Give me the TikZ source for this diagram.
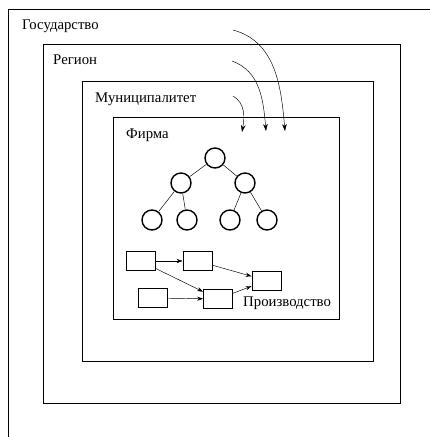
\documentclass[tikz,border=0pt]{standalone}
\usepackage{fontspec}
\setmainfont{Liberation Serif}
\usetikzlibrary{arrows.meta,positioning}

\begin{document}
\begin{tikzpicture}[x=0.03cm, y=0.03cm,
    level/.style={anchor=base west, inner sep=0pt, font=\fontsize{12.6}{14}\selectfont},
    unit/.style={draw, line width=1.2pt, circle, minimum size=0.6cm, inner sep=0pt},
    proc/.style={draw, thick, minimum width=0.87cm, minimum height=0.57cm, inner sep=0pt},
    flow/.style={-{Stealth[length=5pt, width=3.5pt]}},
    power/.style={-{Stealth[length=6pt, width=4pt]}}]
    \useasboundingbox (0,0) rectangle (430,437);

    % Nested levels
    \draw[thick] (8,0) -- (8,428) -- (430,428);
    \draw[thick] (43,34) rectangle (400,393);
    \draw[thick] (82,76) rectangle (373,356);
    \draw[thick] (113,118) rectangle (339,320);

    \node[level] (state) at (22,407) {Государство};
    \node[level] (region) at (53,372) {Регион};
    \node[level] (munic) at (95,334) {Муниципалитет};
    \node[level] (firm) at (126,298) {Фирма};

    % Influence from above
    \coordinate (s1) at (233,407);
    \coordinate (e1) at (285,306);
    \coordinate (s2) at (232,376);
    \coordinate (e2) at (266,306);
    \coordinate (s3) at (233,341);
    \coordinate (e3) at (242,305);
    \draw[power] (s1) to[out=-15, in=95] (e1);
    \draw[power] (s2) to[out=-20, in=95] (e2);
    \draw[power] (s3) to[out=-30, in=80] (e3);

    % Hierarchy
    \node[unit] (root) at (215,279) {};
    \node[unit] (left) at (181,254) {};
    \node[unit] (right) at (245,254) {};
    \node[unit] (ll) at (152,217) {};
    \node[unit] (lr) at (187,217) {};
    \node[unit] (rl) at (230,217) {};
    \node[unit] (rr) at (267,217) {};
    \draw (root) -- (left);
    \draw (root) -- (right);
    \draw (left) -- (ll);
    \draw (left) -- (lr);
    \draw (right) -- (rl);
    \draw (right) -- (rr);

    % Production chain
    \node[proc] (p1) at (140.5,176) {};
    \node[proc] (p2) at (197.5,176) {};
    \node[proc] (p3) at (266.5,156.5) {};
    \node[proc] (p4) at (153,139) {};
    \node[proc] (p5) at (218,138) {};
    \draw[flow] (p1) -- (p2);
    \draw[flow] (p1) -- (p5);
    \draw[flow] (p2) -- (p3);
    \draw[flow] (p4) -- (p5);
    \draw[flow] (p5) -- (p3);
    \node[level] (prod) at (243,130) {Производство};
\end{tikzpicture}
\end{document}
